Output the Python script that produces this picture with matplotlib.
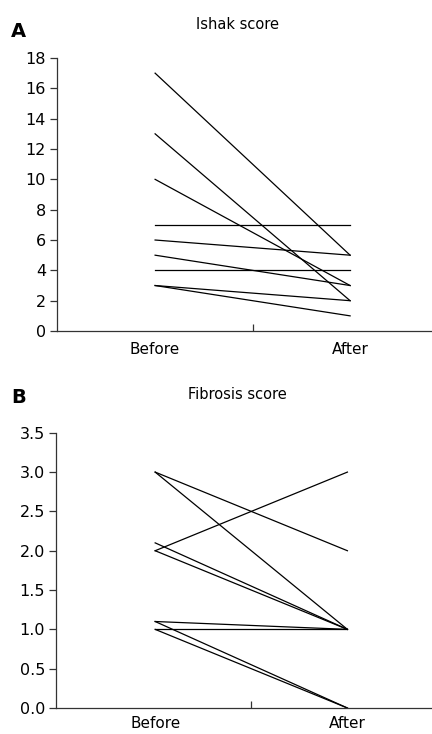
import numpy as np
import matplotlib
matplotlib.use("Agg")
import matplotlib.pyplot as plt

# Ishak score, before / after
ishak_before = [17, 13, 10, 7, 6, 5, 4, 3, 3]
ishak_after = [5, 2, 3, 7, 5, 3, 4, 2, 1]

# Fibrosis score, before / after
fib_before = [3.0, 3.0, 2.0, 2.1, 2.0, 1.1, 1.0, 1.1, 1.0]
fib_after = [2.0, 1.0, 3.0, 1.0, 1.0, 1.0, 1.0, 0.0, 0.0]

group_labels = ["Before", "After"]

plt.rcParams['font.family'] = ['DejaVu Sans']


def paired_panel(ax, before, after, yticks, yfmt, xlim, label_pad):
    for b, a in zip(before, after):
        ax.plot([1, 2], [b, a], color='black', linewidth=0.9)

    ax.set_xlim(*xlim)
    ax.set_ylim(yticks[0], yticks[-1])
    ax.set_yticks(yticks)
    ax.set_yticklabels([yfmt.format(v) for v in yticks], fontsize=11.5)
    ax.set_xticks([1, 2])
    ax.set_xticklabels(group_labels, fontsize=11)
    ax.tick_params(axis='x', which='major', length=0, pad=label_pad)
    ax.set_xticks([1.5], minor=True)
    ax.tick_params(axis='x', which='minor', direction='in', length=5, width=0.9, color='#333333')
    ax.tick_params(axis='y', direction='out', length=5, width=0.9, color='#333333', pad=3)

    for side in ['top', 'right']:
        ax.spines[side].set_visible(False)
    for side in ['left', 'bottom']:
        ax.spines[side].set_color('#333333')
        ax.spines[side].set_linewidth(0.9)
    return ax


fig = plt.figure(figsize=(4.32, 7.34), dpi=100)

axA = fig.add_axes([0.132, 0.549, 0.868, 0.372])
paired_panel(axA, ishak_before, ishak_after, list(range(0, 19, 2)), "{:d}", (0.497, 2.42), 8)
fig.text(0.55, 0.967, "Ishak score", ha='center', va='center', fontsize=10.5)
fig.text(0.025, 0.957, "A", ha='left', va='center', fontsize=14, fontweight='bold')

axB = fig.add_axes([0.130, 0.0354, 0.870, 0.375])
paired_panel(axB, fib_before, fib_after, list(np.arange(0, 3.51, 0.5)), "{:.1f}", (0.485, 2.44), 6)
fig.text(0.55, 0.462, "Fibrosis score", ha='center', va='center', fontsize=10.5)
fig.text(0.025, 0.458, "B", ha='left', va='center', fontsize=14, fontweight='bold')

fig.savefig("out.png", dpi=100)
